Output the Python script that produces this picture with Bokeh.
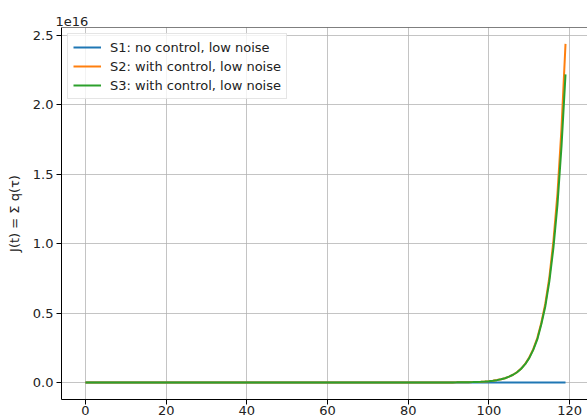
from bokeh.plotting import figure
from bokeh.models import (Range1d, FixedTicker, CustomJSTickFormatter, Span,
                          Legend, LegendItem, ColumnDataSource)
from bokeh.embed import file_html
from bokeh.resources import INLINE

# time steps
t = list(range(120))

# cumulative J(t) readings, in units of 1e16
SCALE = 1e16
s1_e16 = [0.0] * 120
s2_tail_e16 = [  # t = 80 .. 119
    0.00003, 0.00004, 0.00005, 0.00007, 0.0001, 0.00013, 0.00017, 0.00023, 0.0003, 0.0004,
    0.00055, 0.00073, 0.00097, 0.0013, 0.0017, 0.0023, 0.0031, 0.0041, 0.0055, 0.0073,
    0.0098, 0.013, 0.0175, 0.023, 0.031, 0.042, 0.056, 0.075, 0.100, 0.134,
    0.18, 0.24, 0.32, 0.43, 0.57, 0.76, 1.02, 1.36, 1.83, 2.44,
]
s3_tail_e16 = [  # t = 80 .. 119
    0.00003, 0.00004, 0.00005, 0.00007, 0.0001, 0.00013, 0.00017, 0.00023, 0.0003, 0.0004,
    0.00055, 0.00072, 0.00096, 0.0013, 0.0017, 0.0023, 0.0031, 0.0041, 0.0054, 0.0072,
    0.0097, 0.013, 0.017, 0.023, 0.031, 0.042, 0.056, 0.074, 0.099, 0.132,
    0.176, 0.235, 0.31, 0.42, 0.55, 0.73, 0.97, 1.28, 1.70, 2.22,
]
s2_e16 = [0.0] * 80 + s2_tail_e16
s3_e16 = [0.0] * 80 + s3_tail_e16

labels = ["S1: no control, low noise",
          "S2: with control, low noise",
          "S3: with control, low noise"]
colors = ["#1f77b4", "#ff7f0e", "#2ca02c"]

x_ticks = [0, 20, 40, 60, 80, 100, 120]
y_ticks = [0.0, 0.5e16, 1.0e16, 1.5e16, 2.0e16, 2.5e16]

FONT = "DejaVu Sans"
y_top = 2.558e16

p = figure(width=587, height=419, output_backend="svg", toolbar_location=None,
           x_range=Range1d(-5.95, 124.45), y_range=Range1d(-0.1225e16, y_top),
           min_border_left=61, min_border_right=0, min_border_top=27,
           min_border_bottom=20)
p.outline_line_color = None
p.background_fill_color = "white"
p.border_fill_color = "white"

p.title.text = "1e16"
p.title.align = "left"
p.title.offset = -6
p.title.text_font = FONT
p.title.text_font_size = "13px"
p.title.text_font_style = "normal"
p.title.text_color = "#222222"
p.title.standoff = 4

renderers = []
for ys, c in zip([s1_e16, s2_e16, s3_e16], colors):
    src = ColumnDataSource(dict(t=t, j=[v * SCALE for v in ys]))
    renderers.append(p.line("t", "j", source=src, line_color=c, line_width=2))

# top spine
p.add_layout(Span(location=y_top, dimension="width", line_color="black", line_width=1))

for ax in (p.xaxis[0], p.yaxis[0]):
    ax.axis_line_color = "black"
    ax.major_tick_line_color = "black"
    ax.major_tick_in = 0
    ax.major_tick_out = 5
    ax.minor_tick_line_color = None
    ax.major_label_text_font = FONT
    ax.major_label_text_font_size = "13px"
    ax.major_label_text_color = "#222222"
    ax.major_label_standoff = 3

p.xaxis.ticker = FixedTicker(ticks=x_ticks)
p.yaxis.ticker = FixedTicker(ticks=y_ticks)
p.yaxis.formatter = CustomJSTickFormatter(code="return (tick / 1e16).toFixed(1);")
p.xaxis.major_label_standoff = 1

p.yaxis.axis_label = "J(t) = Σ q(τ)"
p.yaxis.axis_label_text_font = FONT
p.yaxis.axis_label_text_font_size = "13px"
p.yaxis.axis_label_text_font_style = "normal"
p.yaxis.axis_label_text_color = "#222222"
p.yaxis.axis_label_standoff = 8

for g in (p.xgrid[0], p.ygrid[0]):
    g.grid_line_color = "#b0b0b0"
    g.grid_line_alpha = 0.75
    g.grid_line_width = 1
p.xgrid.ticker = FixedTicker(ticks=x_ticks)
p.ygrid.ticker = FixedTicker(ticks=y_ticks)

legend = Legend(items=[LegendItem(label=l, renderers=[r]) for l, r in zip(labels, renderers)],
                location="top_left")
legend.margin = 6
legend.padding = 5
legend.spacing = 3
legend.glyph_width = 28
legend.glyph_height = 16
legend.label_height = 16
legend.label_standoff = 9
legend.label_text_font = FONT
legend.label_text_font_size = "13px"
legend.label_text_color = "#222222"
legend.border_line_color = "#cccccc"
legend.border_line_width = 1
legend.background_fill_alpha = 0.8
p.add_layout(legend)

open("out.html", "w").write(file_html(p, INLINE))
